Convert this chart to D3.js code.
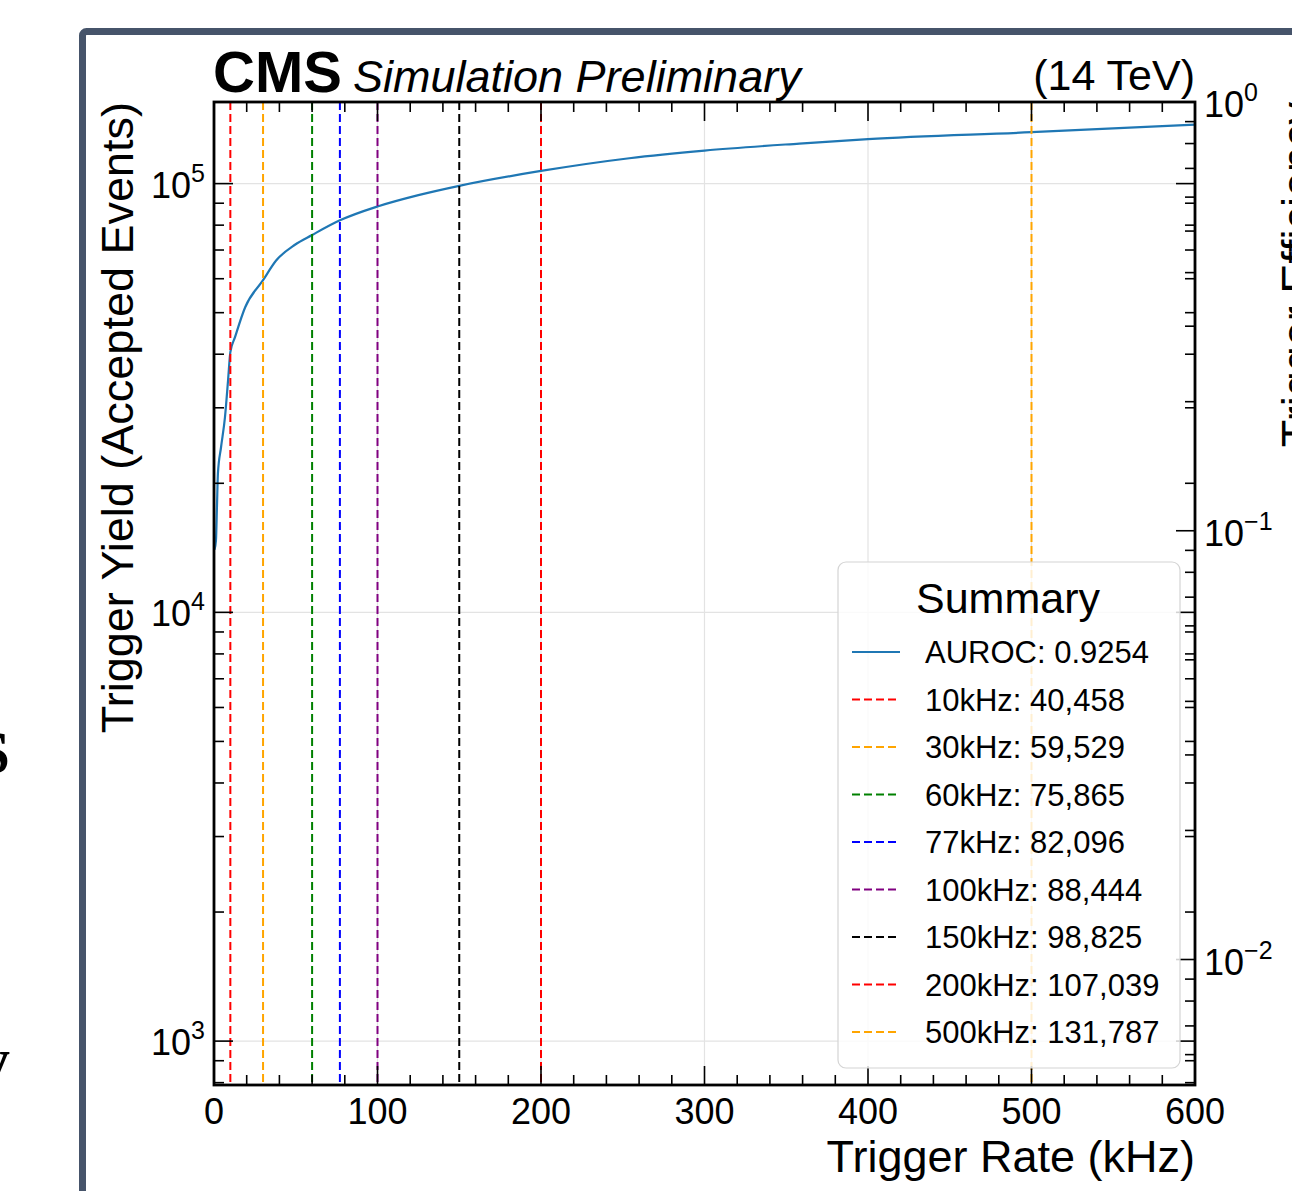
<!DOCTYPE html>
<html>
<head>
<meta charset="utf-8">
<script src="https://cdn.jsdelivr.net/npm/d3@7"></script>
<style>
  body { margin: 0; background: #fff; }
  text { font-family: "Liberation Sans", Arial, sans-serif; fill: #000; }
</style>
</head>
<body>
<div id="container"></div>
<script>
// trigger curve
const rateKHz = [0.3, 1.2, 1.8, 2.4, 4.3, 6.7, 8.6, 10, 12.8, 19, 30, 38, 49.5, 60, 77, 100, 125, 150, 200, 254, 300, 358, 400, 500, 600];
const yieldEvents = [14000, 14720, 17580, 21090, 24270, 28480, 34760, 40458, 43770, 51400, 59529, 66150, 72000, 75865, 82096, 88444, 94000, 98825, 107039, 114600, 119400, 124000, 127000, 131787, 137300];

// working points shown as vertical lines / legend entries
const thresholdRates = [10, 30, 60, 77, 100, 150, 200, 500];
const thresholdYields = [40458, 59529, 75865, 82096, 88444, 98825, 107039, 131787];
const auroc = 0.9254;

const xTicks = [0, 100, 200, 300, 400, 500, 600];
const yDomain = [790, 155000];

const thresholdColors = ['#ff0000', '#ffa500', '#008000', '#0000ff', '#800080', '#000000', '#ff0000', '#ffa500'];
const curveColor = '#1f77b4';

const width = 1292, height = 1191;
const plot = { left: 214, right: 1195, top: 102, bottom: 1085 };

const svg = d3.select('#container').append('svg')
    .attr('width', width)
    .attr('height', height);

svg.append('rect').attr('width', width).attr('height', height).attr('fill', '#fff');

// cropped slide text outside the frame
svg.append('text').attr('x', 10).attr('y', 773).attr('text-anchor', 'end')
    .style('font-family', '"Liberation Serif", serif').style('font-weight', 'bold')
    .style('font-size', '62px').text('S');
svg.append('text').attr('x', 10).attr('y', 1080).attr('text-anchor', 'end')
    .style('font-family', '"Liberation Serif", serif').style('font-weight', 'bold')
    .style('font-size', '62px').text('y');

// frame of the slide picture
svg.append('rect')
    .attr('x', 82.5).attr('y', 31.5)
    .attr('width', 1400).attr('height', 1400)
    .attr('rx', 4)
    .attr('fill', 'none')
    .attr('stroke', '#46546a')
    .attr('stroke-width', 7);

const xScale = d3.scaleLinear().domain([0, 600]).range([plot.left, plot.right]);
const yScale = d3.scaleLog().domain(yDomain).range([plot.bottom, plot.top]);
const effScale = d3.scaleLog()
    .domain([yDomain[0] / yDomain[1], 1])
    .range([plot.bottom, plot.top]);

svg.append('clipPath').attr('id', 'clip')
    .append('rect')
    .attr('x', plot.left).attr('y', plot.top)
    .attr('width', plot.right - plot.left).attr('height', plot.bottom - plot.top);

// grid
const grid = svg.append('g').attr('stroke', '#e3e3e3').attr('stroke-width', 1.2);
grid.selectAll('.gx').data(xTicks.slice(1, -1)).enter().append('line')
    .attr('x1', d => xScale(d)).attr('x2', d => xScale(d))
    .attr('y1', plot.top).attr('y2', plot.bottom);
grid.selectAll('.gy').data([1e3, 1e4, 1e5]).enter().append('line')
    .attr('x1', plot.left).attr('x2', plot.right)
    .attr('y1', d => yScale(d)).attr('y2', d => yScale(d));

const plotArea = svg.append('g').attr('clip-path', 'url(#clip)');

const line = d3.line()
    .x((d, i) => xScale(rateKHz[i]))
    .y(d => yScale(d))
    .curve(d3.curveMonotoneX);

plotArea.append('path')
    .datum(yieldEvents)
    .attr('fill', 'none')
    .attr('stroke', curveColor)
    .attr('stroke-width', 2.2)
    .attr('d', line);

plotArea.selectAll('.thr').data(thresholdRates).enter().append('line')
    .attr('x1', d => xScale(d)).attr('x2', d => xScale(d))
    .attr('y1', plot.top).attr('y2', plot.bottom)
    .attr('stroke', (d, i) => thresholdColors[i])
    .attr('stroke-width', 2)
    .attr('stroke-dasharray', '8,4');

// ticks
const majorLen = 19, minorLen = 10;
const ticks = svg.append('g').attr('stroke', '#000').attr('stroke-width', 1.6);

const xMinor = d3.range(0, 601, 20).filter(d => d % 100 !== 0);
[[xTicks, majorLen], [xMinor, minorLen]].forEach(([vals, len]) => {
    vals.forEach(v => {
        ticks.append('line').attr('x1', xScale(v)).attr('x2', xScale(v))
            .attr('y1', plot.bottom).attr('y2', plot.bottom - len);
        ticks.append('line').attr('x1', xScale(v)).attr('x2', xScale(v))
            .attr('y1', plot.top).attr('y2', plot.top + len);
    });
});

function logTicks(scale) {
    const [lo, hi] = scale.domain();
    const out = [];
    for (let e = Math.floor(Math.log10(lo)); e <= Math.ceil(Math.log10(hi)); e++) {
        for (let m = 1; m <= 9; m++) {
            const v = m * Math.pow(10, e);
            if (v >= lo * 0.999 && v <= hi * 1.001) out.push({ v, major: m === 1 });
        }
    }
    return out;
}

logTicks(yScale).forEach(t => {
    const y = yScale(t.v), len = t.major ? majorLen : minorLen;
    ticks.append('line').attr('x1', plot.left).attr('x2', plot.left + len).attr('y1', y).attr('y2', y);
    ticks.append('line').attr('x1', plot.right).attr('x2', plot.right - len).attr('y1', y).attr('y2', y);
});
logTicks(effScale).forEach(t => {
    const y = effScale(t.v), len = t.major ? majorLen : minorLen;
    ticks.append('line').attr('x1', plot.right).attr('x2', plot.right - len).attr('y1', y).attr('y2', y);
});

// spines
svg.append('rect')
    .attr('x', plot.left).attr('y', plot.top)
    .attr('width', plot.right - plot.left).attr('height', plot.bottom - plot.top)
    .attr('fill', 'none').attr('stroke', '#000').attr('stroke-width', 2.8);

// tick labels
svg.selectAll('.xl').data(xTicks).enter().append('text')
    .attr('x', d => xScale(d)).attr('y', plot.bottom + 39)
    .attr('text-anchor', 'middle')
    .style('font-size', '36px')
    .text(d => d);

function powLabel(sel, exp) {
    sel.append('tspan').text('10');
    sel.append('tspan').attr('dy', -16).style('font-size', '25px')
        .text(exp < 0 ? '\u2212' + (-exp) : exp);
}

[3, 4, 5].forEach(e => {
    const t = svg.append('text')
        .attr('x', plot.left - 9).attr('y', yScale(Math.pow(10, e)) + 14)
        .attr('text-anchor', 'end').style('font-size', '36px');
    powLabel(t, e);
});
[-2, -1, 0].forEach(e => {
    const t = svg.append('text')
        .attr('x', plot.right + 9).attr('y', effScale(Math.pow(10, e)) + 15)
        .attr('text-anchor', 'start').style('font-size', '36px');
    powLabel(t, e);
});

// axis labels (top / right aligned, mplhep style)
svg.append('text')
    .attr('x', plot.right).attr('y', 1172)
    .attr('text-anchor', 'end').style('font-size', '45px')
    .text('Trigger Rate (kHz)');
svg.append('text')
    .attr('transform', `translate(133,${plot.top}) rotate(-90)`)
    .attr('text-anchor', 'end').style('font-size', '45px')
    .text('Trigger Yield (Accepted Events)');
svg.append('text')
    .attr('transform', `translate(1313,${plot.top}) rotate(-90)`)
    .attr('text-anchor', 'end').style('font-size', '45px')
    .text('Trigger Efficiency');

// header
svg.append('text').attr('x', 213).attr('y', 92)
    .style('font-size', '58px').style('font-weight', 'bold').text('CMS');
svg.append('text').attr('x', 353).attr('y', 92)
    .style('font-size', '45px').style('font-style', 'italic').text('Simulation Preliminary');
svg.append('text').attr('x', plot.right).attr('y', 90)
    .attr('text-anchor', 'end').style('font-size', '43px').text('(14 TeV)');

// legend
const legend = svg.append('g');
legend.append('rect')
    .attr('x', 838).attr('y', 562).attr('width', 342).attr('height', 506)
    .attr('rx', 8)
    .attr('fill', '#fff').attr('fill-opacity', 0.82)
    .attr('stroke', '#d4d4d4').attr('stroke-width', 1.2);
legend.append('text')
    .attr('x', 1008).attr('y', 613).attr('text-anchor', 'middle')
    .style('font-size', '43px').text('Summary');

const fmt = d3.format(',');
const entries = [{ label: 'AUROC: ' + auroc, color: curveColor, dash: null }]
    .concat(thresholdRates.map((r, i) => ({
        label: r + 'kHz: ' + fmt(thresholdYields[i]),
        color: thresholdColors[i],
        dash: '8,4'
    })));

entries.forEach((e, i) => {
    const base = 663 + i * 47.5;
    legend.append('line')
        .attr('x1', 852).attr('x2', 900)
        .attr('y1', base - 11).attr('y2', base - 11)
        .attr('stroke', e.color).attr('stroke-width', 2)
        .attr('stroke-dasharray', e.dash);
    legend.append('text')
        .attr('x', 925).attr('y', base)
        .style('font-size', '31px')
        .text(e.label);
});
</script>
</body>
</html>
